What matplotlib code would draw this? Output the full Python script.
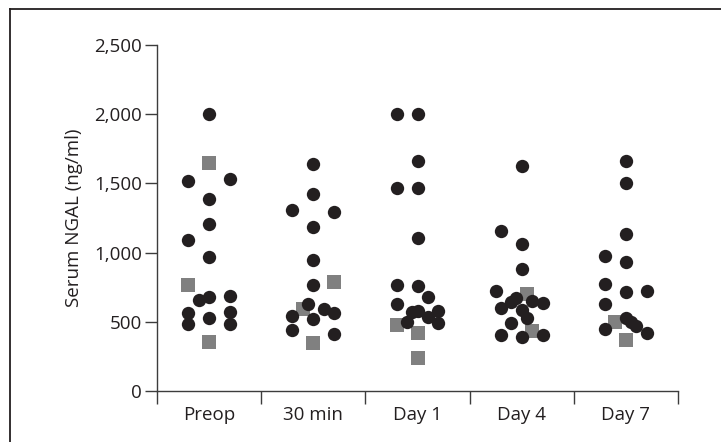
import matplotlib
matplotlib.use("Agg")
import matplotlib.pyplot as plt
from matplotlib.lines import Line2D
from matplotlib.ticker import FuncFormatter, FixedLocator

categories = ["Preop", "30 min", "Day 1", "Day 4", "Day 7"]

# circles (patients group 1): jitter offsets and values per category
preop_c_off = [0, -0.2, 0.2, 0, 0, -0.2, 0, -0.1, 0, 0.2, -0.2, -0.2, 0, 0.2, 0.2]
preop_c_val = [2000, 1520, 1534, 1389, 1207, 1091, 970, 657, 681, 689, 561, 482, 525, 568, 482]
preop_s_off = [0, -0.2, 0]
preop_s_val = [1650, 768, 356]

min30_c_off = [0, 0, -0.2, 0.2, 0, 0, 0, -0.05, 0.1, 0.2, -0.2, 0, -0.2, 0.2]
min30_c_val = [1640, 1423, 1308, 1296, 1187, 947, 766, 626, 592, 566, 544, 518, 441, 412]
min30_s_off = [0.2, -0.1, 0]
min30_s_val = [790, 590, 349]

day1_c_off = [-0.2, 0, 0, -0.2, 0, 0, -0.2, 0, 0.1, -0.2, -0.05, 0, 0.1, 0.2, -0.1, 0.2]
day1_c_val = [2000, 2000, 1664, 1469, 1469, 1103, 766, 759, 677, 626, 573, 580, 537, 580, 501, 489]
day1_s_off = [-0.2, 0, 0]
day1_s_val = [477, 421, 235]

day4_c_off = [0, -0.2, 0, 0, -0.25, -0.05, -0.1, 0.1, 0.2, -0.2, 0, 0.05, -0.1, -0.2, 0, 0.2]
day4_c_val = [1628, 1158, 1060, 881, 722, 670, 641, 650, 638, 597, 585, 530, 489, 405, 392, 405]
day4_s_off = [0.05, 0.1]
day4_s_val = [700, 433]

day7_c_off = [0, 0, 0, -0.2, 0, -0.2, 0, 0.2, -0.2, 0, 0.05, 0.1, -0.2, 0.2]
day7_c_val = [1662, 1505, 1134, 978, 934, 771, 713, 725, 629, 530, 501, 472, 448, 417]
day7_s_off = [-0.1, 0]
day7_s_val = [501, 368]

circle_offsets = [preop_c_off, min30_c_off, day1_c_off, day4_c_off, day7_c_off]
circle_values = [preop_c_val, min30_c_val, day1_c_val, day4_c_val, day7_c_val]
square_offsets = [preop_s_off, min30_s_off, day1_s_off, day4_s_off, day7_s_off]
square_values = [preop_s_val, min30_s_val, day1_s_val, day4_s_val, day7_s_val]

y_ticks = [0, 500, 1000, 1500, 2000, 2500]

plt.rcParams['font.family'] = ['Open Sans', 'DejaVu Sans']
text_color = '#231f20'
axis_color = '#3c3c3c'

fig = plt.figure(figsize=(7.21, 4.42), dpi=100)
ax = fig.add_axes([157/721, 51/442, (678-157)/721, (391-45)/442])

for i in range(len(categories)):
    xs = [i + o for o in square_offsets[i]]
    ax.plot(xs, square_values[i], linestyle='none', marker='s', markersize=10,
            color='#808080', markeredgewidth=0, zorder=2, clip_on=False)
for i in range(len(categories)):
    xs = [i + o for o in circle_offsets[i]]
    ax.plot(xs, circle_values[i], linestyle='none', marker='o', markersize=9.6,
            color='#231f20', markeredgewidth=0, zorder=3, clip_on=False)

ax.set_xlim(-0.5, len(categories) - 0.5)
ax.set_ylim(0, 2500)
ax.yaxis.set_major_locator(FixedLocator(y_ticks))
ax.yaxis.set_major_formatter(FuncFormatter(lambda v, p: f"{int(v):,}"))

ax.xaxis.set_major_locator(FixedLocator([i - 0.5 for i in range(len(categories) + 1)]))
ax.xaxis.set_major_formatter(FuncFormatter(lambda v, p: ""))
ax.xaxis.set_minor_locator(FixedLocator(list(range(len(categories)))))
ax.set_xticklabels(categories, minor=True)
ax.tick_params(axis='x', which='minor', length=0, pad=11, labelsize=13.5, labelcolor=text_color)
ax.tick_params(axis='x', which='major', length=9, width=1, color=axis_color)
ax.tick_params(axis='y', which='major', length=9, width=1, color=axis_color, pad=2,
               labelsize=13.5, labelcolor=text_color)

for s in ['top', 'right']:
    ax.spines[s].set_visible(False)
for s in ['left', 'bottom']:
    ax.spines[s].set_color(axis_color)
    ax.spines[s].set_linewidth(1)

ax.set_ylabel("Serum NGAL (ng/ml)", fontsize=13.5, color=text_color, labelpad=8)

# outer frame (left and top edges)
fx = 10 / 721
fy = 1 - 9 / 442
fig.add_artist(Line2D([fx, fx], [0, fy], transform=fig.transFigure, color='#231f20', linewidth=1.3))
fig.add_artist(Line2D([fx, 1], [fy, fy], transform=fig.transFigure, color='#231f20', linewidth=1.3))

fig.savefig("out.png", dpi=100)
